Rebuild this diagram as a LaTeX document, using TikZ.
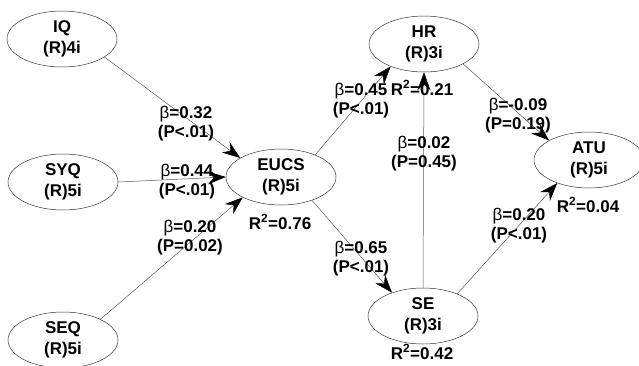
\documentclass[tikz,border=0pt]{standalone}
\usepackage{fontspec}
\setmainfont{Liberation Sans}
\usetikzlibrary{shapes.geometric, arrows.meta}

\newcommand{\coefb}{{\mdseries β}}

\begin{document}
\begin{tikzpicture}[x=1pt, y=-1pt,
		construct/.style={ellipse, draw=black!80, line width=0.5pt, minimum width=110pt, minimum height=56pt, inner sep=0pt, align=center, font=\fontsize{17}{21}\selectfont\bfseries},
		coef/.style={align=center, font=\fontsize{17}{19}\selectfont\bfseries},
		rsq/.style={font=\fontsize{17}{19}\selectfont\bfseries},
		link/.style={draw=black!65, line width=0.5pt, -{Stealth[length=18pt, width=13pt, inset=6pt, black]}}]
		\useasboundingbox (0,0) rectangle (639,365);
		
		% Constructs
		\node[construct] (IQ) at (62,39) {IQ\\(R)4i};
		\node[construct] (SYQ) at (63,182) {SYQ\\(R)5i};
		\node[construct] (SEQ) at (63,340) {SEQ\\(R)5i};
		\node[construct] (EUCS) at (281,177) {EUCS\\(R)5i};
		\node[construct] (HR) at (424,44) {HR\\(R)3i};
		\node[construct] (SE) at (423,316) {SE\\(R)3i};
		\node[construct] (ATU) at (589,160) {ATU\\(R)5i};
		
		% Paths
		\draw[link] (IQ.-23) -- (EUCS.155);
		\draw[link] (SYQ.east) -- (EUCS.west);
		\draw[link] (SEQ.29) -- (EUCS.208);
		\draw[link] (EUCS.33) -- (HR.214);
		\draw[link] (EUCS.-37) -- (SE.143);
		\draw[link] (SE.north) -- (HR.south);
		\draw[link] (HR.-27) -- (ATU.154);
		\draw[link] (SE.33) -- (ATU.216);
		
		% Path coefficients
		\node[coef] (IQ-EUCS) at (186,124) {\coefb=0.32\\(P<.01)};
		\node[coef] (SYQ-EUCS) at (187,182) {\coefb=0.44\\(P<.01)};
		\node[coef] (SEQ-EUCS) at (190,238) {\coefb=0.20\\(P=0.02)};
		\node[coef] (EUCS-HR) at (361,101) {\coefb=0.45\\(P<.01)};
		\node[coef] (EUCS-SE) at (361,259) {\coefb=0.65\\(P<.01)};
		\node[coef] (SE-HR) at (424,154) {\coefb=0.02\\(P=0.45)};
		\node[coef] (HR-ATU) at (518,116) {\coefb=-0.09\\(P=0.19)};
		\node[coef] (SE-ATU) at (519,226) {\coefb=0.20\\(P<.01)};
		
		% R squared
		\node[rsq] (R2-EUCS) at (280,222) {R\textsuperscript{2}=0.76};
		\node[rsq] (R2-HR) at (422,88) {R\textsuperscript{2}=0.21};
		\node[rsq] (R2-SE) at (422,352) {R\textsuperscript{2}=0.42};
		\node[rsq] (R2-ATU) at (588,205) {R\textsuperscript{2}=0.04};
	\end{tikzpicture}
\end{document}
